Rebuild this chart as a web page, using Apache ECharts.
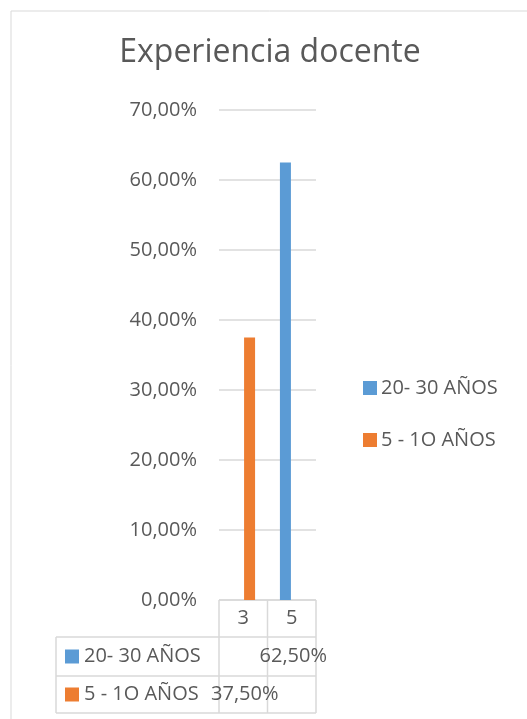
<!DOCTYPE html>
<html>
<head>
<meta charset="utf-8">
<script src="https://cdn.jsdelivr.net/npm/echarts@6/dist/echarts.min.js"></script>
<style>
  html, body { margin: 0; padding: 0; background: #fff; }
  #chart { width: 527px; height: 719px; }
</style>
</head>
<body>
<div id="chart"></div>
<script>
// datos
const categories = ['3', '5']
const seriesNames = ['20- 30 AÑOS', '5 - 1O AÑOS']
const anos2030 = [null, 62.5]
const anos510 = [37.5, null]
const colors = ['#5b9bd5', '#ed7d31']

const font = 'Open Sans'
const gray = '#595959'
const lineGray = '#d9d9d9'
const fs = 20

// plot area
const plotLeft = 219, plotRight = 316, plotTop = 110, plotBottom = 600
const rowTop = [600, 637, 676, 713]
const tableLeft = 56

const fmt = v => v.toFixed(2).replace('.', ',') + '%'

const chart = echarts.init(document.getElementById('chart'))

function tableGraphics() {
  const g = []
  // borde del gráfico
  g.push({ type: 'rect', shape: { x: 11, y: 11, width: 700, height: 800 },
    style: { fill: 'none', stroke: lineGray, lineWidth: 1 }, silent: true })
  const colW = (plotRight - plotLeft) / categories.length
  const colX = categories.map((c, i) => plotLeft + i * colW)
  const ln = (x1, y1, x2, y2) => ({ type: 'line', shape: { x1, y1, x2, y2 }, style: { stroke: lineGray, lineWidth: 1.5 } })
  g.push(ln(plotLeft, rowTop[0], plotRight, rowTop[0]))
  for (let r = 1; r < rowTop.length; r++) g.push(ln(tableLeft, rowTop[r], plotRight, rowTop[r]))
  g.push(ln(tableLeft, rowTop[1], tableLeft, rowTop[3]))
  colX.concat([plotRight]).forEach(x => g.push(ln(x, rowTop[0], x, rowTop[3])))
  // filas de la tabla de datos
  const rows = [anos2030, anos510]
  rows.forEach((vals, r) => {
    const yc = (rowTop[r + 1] + rowTop[r + 2]) / 2
    g.push({ type: 'rect', shape: { x: 65, y: yc - 7, width: 14, height: 14 }, style: { fill: colors[r] } })
    g.push({ type: 'text', x: 84, y: yc, style: { text: seriesNames[r], font: fs + 'px "' + font + '"', fill: gray, textVerticalAlign: 'middle' } })
    vals.forEach((v, i) => {
      if (v == null) return
      g.push({ type: 'text', x: colX[i] + colW + 11, y: yc, style: { text: fmt(v), font: fs + 'px "' + font + '"', fill: gray, textAlign: 'right', textVerticalAlign: 'middle' } })
    })
  })
  return g
}

const option = {
  backgroundColor: '#fff',
  animation: false,
  title: {
    text: 'Experiencia docente',
    left: 265, top: 32, textAlign: 'center',
    textStyle: { fontFamily: font, fontSize: 32, fontWeight: 'normal', color: gray },
  },
  legend: {
    orient: 'vertical',
    left: 358, top: 373,
    itemWidth: 14, itemHeight: 14, itemGap: 32,
    icon: 'rect',
    textStyle: { fontFamily: font, fontSize: fs, lineHeight: 14, color: gray, padding: [0, 0, 0, -1] },
    data: seriesNames,
  },
  grid: { left: plotLeft, right: 527 - plotRight, top: plotTop, bottom: 719 - plotBottom },
  xAxis: {
    type: 'category',
    data: categories,
    axisLine: { show: false },
    axisTick: { show: false },
    axisLabel: { fontFamily: font, fontSize: fs, color: gray, margin: 8 },
  },
  yAxis: {
    type: 'value',
    min: 0, max: 70, interval: 10,
    axisLine: { show: false },
    axisTick: { show: false },
    axisLabel: { fontFamily: font, fontSize: fs, color: gray, margin: 22, formatter: fmt },
    splitLine: { lineStyle: { color: lineGray, width: 1.5 } },
  },
  series: [
    { name: seriesNames[0], type: 'bar', data: anos2030, barWidth: 11, barGap: '15%', itemStyle: { color: colors[0] } },
    { name: seriesNames[1], type: 'bar', data: anos510, barWidth: 11, barGap: '15%', itemStyle: { color: colors[1] } },
  ],
  graphic: tableGraphics(),
}
chart.setOption(option)
</script>
</body>
</html>
